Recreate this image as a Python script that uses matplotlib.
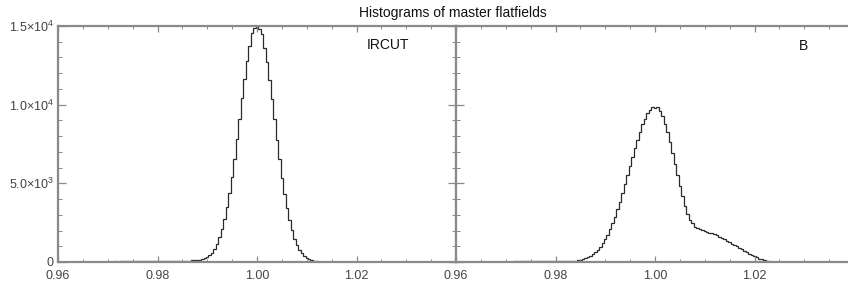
import matplotlib
matplotlib.use('Agg')
import matplotlib.pyplot as plt
import numpy as np
from matplotlib.ticker import MultipleLocator, FixedLocator, FixedFormatter

plt.rcParams['font.family'] = ['Liberation Sans', 'DejaVu Sans']
plt.rcParams['mathtext.fontset'] = 'custom'
plt.rcParams['mathtext.rm'] = 'Liberation Sans'
plt.rcParams['mathtext.it'] = 'Liberation Sans'

# histogram settings (bin width 0.0005, first bin centred on 0.968)
bin_start = 0.96775
bin_width = 0.0005

# IRCUT counts per bin
ircut_counts = [
    10, 15, 20, 25, 25, 30, 30, 35, 30, 35, 40, 40, 35, 40, 45, 40, 45, 50, 45, 50,
    50, 55, 50, 55, 60, 55, 60, 65, 60, 65, 70, 65, 70, 75, 70, 80, 85, 90, 100, 110,
    130, 150, 180, 230, 300, 420, 590, 830, 1150, 1560, 2080, 2710, 3480, 4390, 5420,
    6570, 7810, 9110, 10400, 11630, 12750, 13700, 14580, 14900,
    15000,
    14820, 14500, 13620, 12700, 11580, 10350, 9060, 7760, 6520, 5370, 4330, 3430, 2650,
    2010, 1490, 1090, 780, 550, 380, 250, 165, 105, 65, 40, 20,
]

# B counts per bin
b_counts = [
    10, 15, 20, 20, 25, 25, 30, 30, 35, 35, 35, 40, 40, 40, 45, 45, 45, 50, 50, 50,
    55, 55, 55, 60, 60, 60, 65, 65, 70, 70, 75, 80,
    85, 105, 135, 175, 230, 300, 385, 490, 620, 775, 960, 1180, 1440, 1740, 2070, 2450,
    2880, 3340, 3840, 4370, 4930, 5500, 6090, 6670, 7240, 7780, 8290, 8740, 9120, 9440,
    9660, 9850,
    9770, 9830, 9600, 9250, 8800, 8250, 7600, 6900, 6200, 5500, 4850, 4200, 3550, 3050,
    2700, 2450, 2250, 2150, 2080, 2020, 1970, 1920, 1870, 1820, 1760, 1690, 1610, 1530,
    1440, 1350, 1260, 1170, 1080, 990, 900, 800, 700, 610, 520, 440, 360, 290, 220, 160,
    110, 70, 45, 30, 20, 10,
]

panel_names = ['IRCUT', 'B']
x_major = [0.96, 0.98, 1.00, 1.02, 1.04]
y_major = [0, 5000, 10000, 15000]
y_labels = ['0', r'5.0$\times$10$^{3}$', r'1.0$\times$10$^{4}$', r'1.5$\times$10$^{4}$']

W, H = 848, 285
fig = plt.figure(figsize=(W / 100, H / 100), dpi=100)

axis_col = '#8a8a8a'
text_col = '#444444'
line_col = '#2a2a2a'

# each panel is 398 px for 0.96..1.04; the second one runs off the right edge
px_per_unit = 398 / 0.08
boxes = [(58, 398), (456, 430)]
for i, (counts, name) in enumerate(zip([ircut_counts, b_counts], panel_names)):
    x0, w = boxes[i]
    ax = fig.add_axes([x0 / W, 23 / H, w / W, 236 / H])
    edges = bin_start + bin_width * np.arange(len(counts) + 1)
    ax.stairs(counts, edges, color=line_col, lw=0.9, baseline=None)
    ax.set_xlim(0.96, 0.96 + w / px_per_unit)
    ax.set_ylim(0, 15000)
    for s in ax.spines.values():
        s.set_color(axis_col)
        s.set_linewidth(1.6)
    ax.xaxis.set_major_locator(FixedLocator(x_major))
    ax.xaxis.set_major_formatter(FixedFormatter(['%.2f' % v for v in x_major[:-1]] + ['']))
    ax.xaxis.set_minor_locator(MultipleLocator(0.005))
    ax.yaxis.set_major_locator(FixedLocator(y_major))
    ax.yaxis.set_minor_locator(MultipleLocator(1000))
    if i == 0:
        ax.yaxis.set_major_formatter(FixedFormatter(y_labels))
    else:
        ax.set_yticklabels([])
    ax.tick_params(axis='x', which='major', direction='in', length=4.5, width=0.9,
                   color=axis_col, top=True, labelsize=9, labelcolor=text_col, pad=5.5)
    ax.tick_params(axis='x', which='minor', direction='in', length=2.2, width=0.7,
                   color=axis_col, top=True)
    ax.tick_params(axis='y', which='major', direction='in', length=6.0, width=0.9,
                   color=axis_col, right=(i == 0), labelsize=9, labelcolor=text_col, pad=3)
    ax.tick_params(axis='y', which='minor', direction='in', length=3.0, width=0.7,
                   color=axis_col, right=(i == 0))

fig.text(388 / W, 1 - 45 / H, 'IRCUT', ha='center', va='center', fontsize=10, color='#111111')
fig.text(804 / W, 1 - 46 / H, 'B', ha='center', va='center', fontsize=10, color='#111111')
fig.text(453 / W, 1 - 13 / H, 'Histograms of master flatfields', ha='center', va='center',
         fontsize=10, color='#111111')

fig.savefig('out.png', dpi=100)
